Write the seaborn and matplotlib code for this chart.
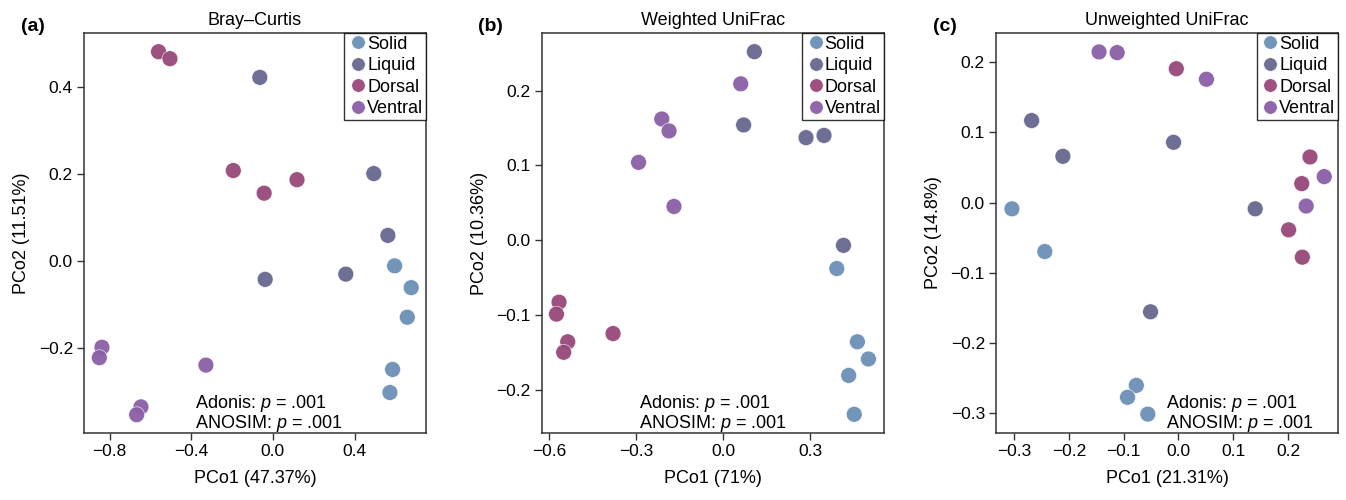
import pandas as pd
import numpy as np
import matplotlib
matplotlib.use("Agg")
import matplotlib.pyplot as plt
import seaborn as sns

sns.set_style("ticks")
plt.rcParams["font.family"] = ["Liberation Sans", "DejaVu Sans"]
plt.rcParams["mathtext.fontset"] = "custom"
plt.rcParams["mathtext.it"] = "Liberation Sans:italic"
plt.rcParams["mathtext.rm"] = "Liberation Sans"
plt.rcParams["text.color"] = "black"
plt.rcParams["axes.labelcolor"] = "black"
plt.rcParams["xtick.labelcolor"] = "black"
plt.rcParams["ytick.labelcolor"] = "black"

groups = ["Solid", "Liquid", "Dorsal", "Ventral"]
colors = ["#6a8fb6", "#67668f", "#974879", "#8a5fa6"]

# (a) Bray-Curtis
bc_solid_x = [0.596, 0.677, 0.658, 0.586, 0.573]
bc_solid_y = [-0.011, -0.061, -0.129, -0.249, -0.302]
bc_liquid_x = [-0.064, 0.494, 0.563, -0.038, 0.357]
bc_liquid_y = [0.422, 0.201, 0.059, -0.042, -0.030]
bc_dorsal_x = [-0.560, -0.504, -0.194, -0.043, 0.118]
bc_dorsal_y = [0.481, 0.465, 0.208, 0.156, 0.187]
bc_ventral_x = [-0.837, -0.850, -0.328, -0.646, -0.667]
bc_ventral_y = [-0.198, -0.222, -0.239, -0.335, -0.353]

# (b) Weighted UniFrac
wu_solid_x = [0.391, 0.462, 0.500, 0.432, 0.451]
wu_solid_y = [-0.038, -0.136, -0.159, -0.181, -0.233]
wu_liquid_x = [0.107, 0.070, 0.285, 0.347, 0.414]
wu_liquid_y = [0.252, 0.154, 0.137, 0.140, -0.007]
wu_dorsal_x = [-0.566, -0.575, -0.536, -0.550, -0.380]
wu_dorsal_y = [-0.083, -0.099, -0.136, -0.150, -0.125]
wu_ventral_x = [0.060, -0.212, -0.187, -0.292, -0.170]
wu_ventral_y = [0.209, 0.162, 0.146, 0.104, 0.045]

# (c) Unweighted UniFrac
uu_solid_x = [-0.304, -0.244, -0.077, -0.093, -0.056]
uu_solid_y = [-0.009, -0.070, -0.261, -0.278, -0.302]
uu_liquid_x = [-0.268, -0.211, -0.009, 0.140, -0.051]
uu_liquid_y = [0.117, 0.066, 0.086, -0.009, -0.156]
uu_dorsal_x = [-0.004, 0.240, 0.225, 0.201, 0.226]
uu_dorsal_y = [0.191, 0.065, 0.027, -0.039, -0.078]
uu_ventral_x = [-0.145, -0.112, 0.051, 0.266, 0.233]
uu_ventral_y = [0.215, 0.214, 0.176, 0.037, -0.005]


def make_df(xs, ys):
    rows = []
    for g, x, y in zip(groups, xs, ys):
        for a, b in zip(x, y):
            rows.append({"PCo1": a, "PCo2": b, "Group": g})
    return pd.DataFrame(rows)


panels = [
    dict(tag="(a)", title="Bray\u2013Curtis",
         df=make_df([bc_solid_x, bc_liquid_x, bc_dorsal_x, bc_ventral_x],
                    [bc_solid_y, bc_liquid_y, bc_dorsal_y, bc_ventral_y]),
         xlabel="PCo1 (47.37%)", ylabel="PCo2 (11.51%)",
         xlim=(-0.925, 0.749), ylim=(-0.395, 0.524),
         xticks=[-0.8, -0.4, 0.0, 0.4], yticks=[-0.2, 0.0, 0.2, 0.4], tx=0.325),
    dict(tag="(b)", title="Weighted UniFrac",
         df=make_df([wu_solid_x, wu_liquid_x, wu_dorsal_x, wu_ventral_x],
                    [wu_solid_y, wu_liquid_y, wu_dorsal_y, wu_ventral_y]),
         xlabel="PCo1 (71%)", ylabel="PCo2 (10.36%)",
         xlim=(-0.626, 0.552), ylim=(-0.258, 0.277),
         xticks=[-0.6, -0.3, 0.0, 0.3], yticks=[-0.2, -0.1, 0.0, 0.1, 0.2], tx=0.285),
    dict(tag="(c)", title="Unweighted UniFrac",
         df=make_df([uu_solid_x, uu_liquid_x, uu_dorsal_x, uu_ventral_x],
                    [uu_solid_y, uu_liquid_y, uu_dorsal_y, uu_ventral_y]),
         xlabel="PCo1 (21.31%)", ylabel="PCo2 (14.8%)",
         xlim=(-0.333, 0.291), ylim=(-0.329, 0.242),
         xticks=[-0.3, -0.2, -0.1, 0.0, 0.1, 0.2],
         yticks=[-0.3, -0.2, -0.1, 0.0, 0.1, 0.2], tx=0.496),
]

fig = plt.figure(figsize=(13.46, 5), dpi=100)
lefts = [0.0624, 0.4024, 0.740]
palette = dict(zip(groups, colors))

for left, p in zip(lefts, panels):
    ax = fig.add_axes([left, 0.134, 0.254, 0.80])
    sns.scatterplot(data=p["df"], x="PCo1", y="PCo2", hue="Group",
                    hue_order=groups, palette=palette, s=130, alpha=0.95,
                    edgecolor="white", linewidth=0.4, ax=ax)
    ax.set_xlim(p["xlim"])
    ax.set_ylim(p["ylim"])
    ax.set_xticks(p["xticks"])
    ax.set_yticks(p["yticks"])
    ax.set_xticklabels([f"{v:.1f}".replace("-", "\u2212") for v in p["xticks"]])
    ax.set_yticklabels([f"{v:.1f}".replace("-", "\u2212") for v in p["yticks"]])
    ax.tick_params(labelsize=12.5, length=5, width=1, color="#333333", pad=3)
    for s in ax.spines.values():
        s.set_visible(True)
        s.set_color("#333333")
        s.set_linewidth(1.1)
    ax.set_xlabel(p["xlabel"], fontsize=13, labelpad=8)
    ax.set_ylabel(p["ylabel"], fontsize=13, labelpad=6)
    ax.set_title(p["title"], fontsize=13, pad=6)
    ax.text(-0.185, 0.995, p["tag"], transform=ax.transAxes, fontsize=14,
            fontweight="bold", va="bottom")
    ax.text(p["tx"], 0.075, "Adonis: $p$ = .001", transform=ax.transAxes,
            fontsize=13, va="center")
    ax.text(p["tx"], 0.025, "ANOSIM: $p$ = .001", transform=ax.transAxes,
            fontsize=13, va="center")
    leg = ax.legend(loc="upper right", fontsize=13, frameon=True, fancybox=False,
                    borderpad=0.15, handletextpad=-0.1, labelspacing=0.25,
                    handlelength=1.2, borderaxespad=0, markerscale=0.85)
    leg.get_frame().set_edgecolor("black")
    leg.get_frame().set_linewidth(1.0)
    leg.set_title(None)

plt.savefig("out.png", dpi=100)
